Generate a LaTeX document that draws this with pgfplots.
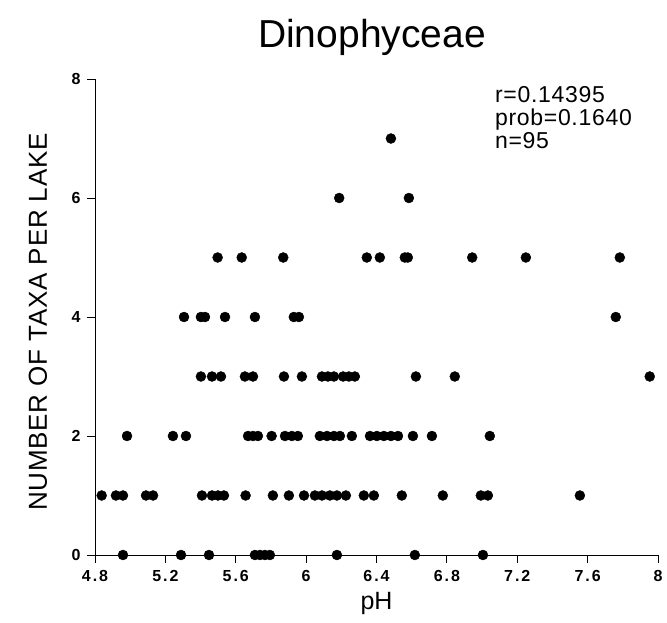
\documentclass[border=0pt]{standalone}
\usepackage{fontspec}
\setmainfont{Liberation Sans}
\newfontfamily\widefont[LetterSpace=12]{Liberation Sans}
\newfontfamily\midfont[LetterSpace=3]{Liberation Sans}
\newfontfamily\labfont[LetterSpace=3]{Liberation Sans}
\usepackage{pgfplots}
\pgfplotsset{compat=1.18}
\usepackage{pgfplotstable}

\pgfplotstableread{
x y
4.959 0
5.289 0
5.448 0
5.709 0
5.738 0
5.766 0
5.794 0
6.175 0
6.618 0
7.005 0
4.838 1
4.919 1
4.959 1
5.090 1
5.130 1
5.408 1
5.465 1
5.499 1
5.533 1
5.656 1
5.811 1
5.902 1
5.988 1
6.050 1
6.090 1
6.135 1
6.175 1
6.226 1
6.328 1
6.385 1
6.544 1
6.777 1
6.993 1
7.033 1
7.556 1
4.982 2
5.243 2
5.317 2
5.670 2
5.698 2
5.726 2
5.804 2
5.880 2
5.919 2
5.953 2
6.078 2
6.119 2
6.158 2
6.192 2
6.260 2
6.363 2
6.402 2
6.442 2
6.482 2
6.522 2
6.607 2
6.715 2
7.044 2
5.402 3
5.465 3
5.516 3
5.652 3
5.698 3
5.874 3
5.976 3
6.090 3
6.124 3
6.158 3
6.210 3
6.243 3
6.277 3
6.624 3
6.845 3
7.953 3
5.306 4
5.402 4
5.425 4
5.539 4
5.709 4
5.930 4
5.959 4
7.760 4
5.497 5
5.634 5
5.870 5
6.345 5
6.419 5
6.561 5
6.578 5
6.944 5
7.249 5
7.783 5
6.188 6
6.584 6
6.482 7
}\dinodata

\begin{document}
\begin{tikzpicture}
\path[use as bounding box] (-95pt,-68pt) rectangle (572pt,555pt);
\begin{axis}[
  at={(0pt,0pt)}, anchor=south west,
  width=563pt, height=476pt, scale only axis,
  xmin=4.8, xmax=8, ymin=0, ymax=8,
  axis x line=bottom, axis y line=left,
  axis line style={-, line width=0.9pt, black},
  xtick={4.8,5.2,5.6,6,6.4,6.8,7.2,7.6,8},
  xticklabels={4.8,5.2,5.6,6,6.4,6.8,7.2,7.6,8},
  ytick={0,2,4,6,8},
  tick align=outside, major tick length=8pt,
  tick style={line width=0.9pt, black},
  /pgf/number format/assume math mode=true,
  ticklabel style={font=\widefont\bfseries\fontsize{16}{16}\selectfont},
  xticklabel style={yshift=-4pt},
  yticklabel style={xshift=-3pt},
  clip=false,
]
\addplot[only marks, mark=*, mark size=5pt, black, mark options={fill=black, draw=black}] table[x=x, y=y] {\dinodata};
\node[anchor=base west, inner sep=0pt, font=\midfont\fontsize{23}{23}\selectfont] at (axis cs:7.073,7.61) {r=0.14395};
\node[anchor=base west, inner sep=0pt, font=\midfont\fontsize{23}{23}\selectfont] at (axis cs:7.073,7.225) {prob=0.1640};
\node[anchor=base west, inner sep=0pt, font=\midfont\fontsize{23}{23}\selectfont] at (axis cs:7.073,6.84) {n=95};
\node[anchor=base, font=\fontsize{39}{39}\selectfont] at (rel axis cs:0.492,1) [yshift=32pt] {Dinophyceae};
\node[anchor=base, font=\fontsize{25}{25}\selectfont] at (rel axis cs:0.5,0) [yshift=-55pt] {pH};
\node[rotate=90, anchor=center, font=\labfont\fontsize{26}{26}\selectfont] at ([xshift=-57pt,yshift=-5pt]rel axis cs:0,0.5) {NUMBER OF TAXA PER LAKE};
\end{axis}
\end{tikzpicture}
\end{document}
